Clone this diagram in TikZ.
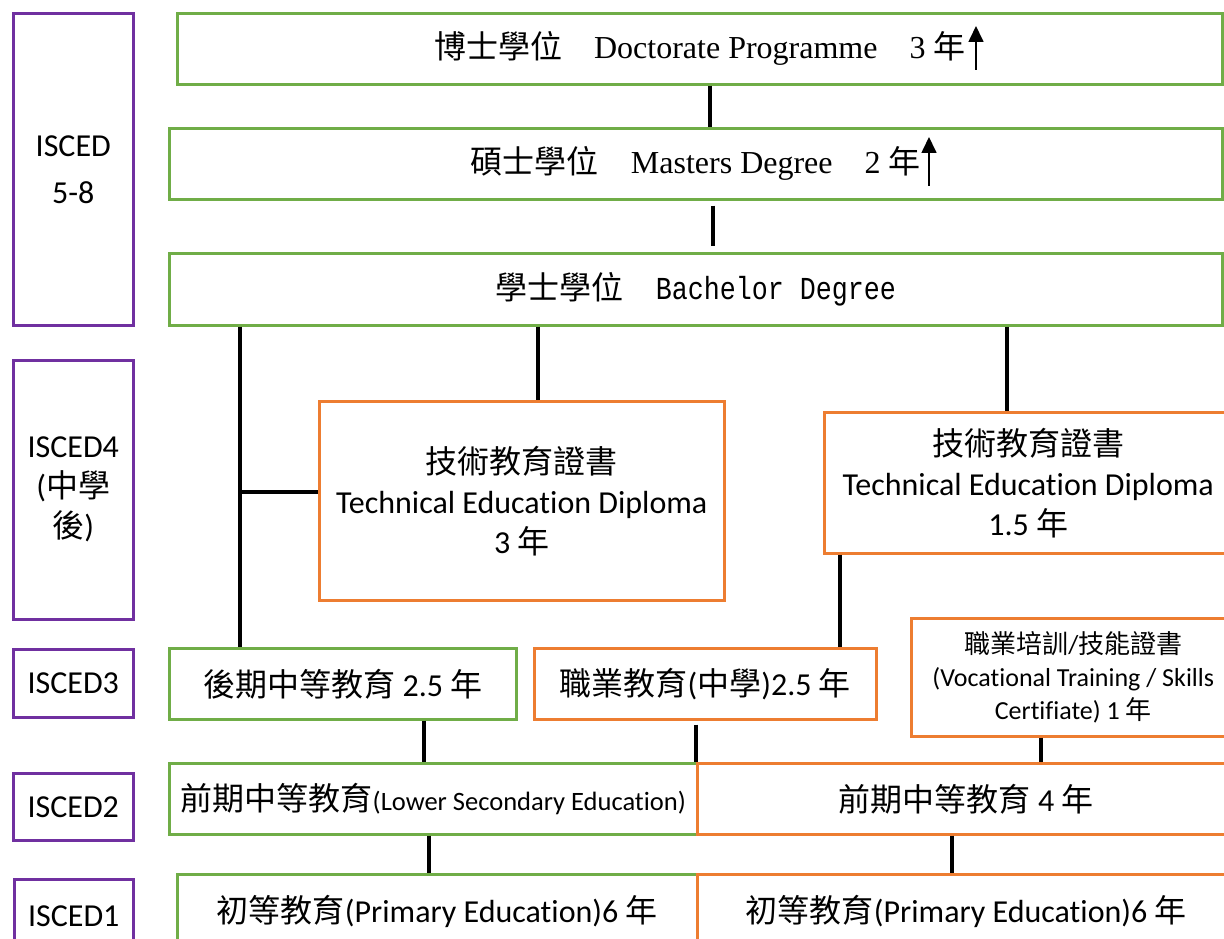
\documentclass[tikz,border=0pt]{standalone}
\usepackage{fontspec}
\setmainfont{Carlito}[Ligatures={NoCommon}]
\newfontfamily\cjk{Noto Sans CJK TC}
\newfontfamily\tnr{Liberation Serif}
\newfontfamily\mono[FakeStretch=0.8333]{Liberation Mono}
\usetikzlibrary{arrows.meta}
\definecolor{bgreen}{HTML}{70AD47}
\definecolor{borange}{HTML}{ED7D31}
\definecolor{bpurple}{HTML}{7030A0}
\newcommand{\C}[1]{{\cjk #1}}
\tikzset{
  box/.style={draw, rectangle, line width=2.6pt, inner sep=0pt, anchor=north west, align=center,
    font=\fontsize{32}{40}\selectfont},
  lvl/.style={box, draw=bpurple},
  gbox/.style={box, draw=bgreen},
  obox/.style={box, draw=borange},
  conn/.style={line width=4pt, black},
  uparrow/.style={line width=1.7pt, black, -{Triangle[width=15pt,length=16pt]}},
}
\begin{document}
\begin{tikzpicture}[x=1pt,y=-1pt]
\useasboundingbox (0,0) rectangle (1224,939);
\clip (0,0) rectangle (1224,939);
% level boxes
\node[lvl, minimum width=120pt, minimum height=312pt] (L58) at (12,12) {ISCED\\[7pt]5-8};
\node[lvl, minimum width=120pt, minimum height=259pt] (L4) at (12,359) {ISCED4\\(\C{中學}\\\C{後})};
\node[lvl, minimum width=120pt, minimum height=68pt] (L3) at (12,648) {ISCED3};
\node[lvl, minimum width=120pt, minimum height=67pt] (L2) at (12,772) {ISCED2};
\node[lvl, minimum width=119pt, minimum height=74pt] (L1) at (13,878) {ISCED1};
% degree boxes
\node[gbox, minimum width=1045pt, minimum height=71pt] (doc) at (176,12)
  {\C{博士學位}\hspace{32pt}{\tnr Doctorate Programme}\hspace{32pt}{\tnr 3}\hspace{8pt}\C{年}};
\node[gbox, minimum width=1053pt, minimum height=71pt] (mas) at (168,127)
  {\C{碩士學位}\hspace{32pt}{\tnr Masters Degree}\hspace{32pt}{\tnr 2}\hspace{8pt}\C{年}};
\node[gbox, minimum width=1053pt, minimum height=72pt] (bac) at (168,252)
  {\C{學士學位}\hspace{32pt}{\mono Bachelor Degree}};
% ISCED4
\node[obox, minimum width=405pt, minimum height=199pt] (tech1) at (318,400)
  {\C{技術教育證書}\\Technical Education Diploma\\3 \C{年}};
\node[obox, minimum width=408pt, minimum height=141pt] (tech2) at (823,411)
  {\C{技術教育證書}\\Technical Education Diploma\\1.5 \C{年}};
% ISCED3
\node[gbox, minimum width=347pt, minimum height=71pt] (up3) at (168,647)
  {\C{後期中等教育} 2.5 \C{年}};
\node[obox, minimum width=342pt, minimum height=71pt] (voc) at (533,647)
  {\C{職業教育}(\C{中學})2.5 \C{年}};
\node[obox, minimum width=324pt, minimum height=118pt, font=\fontsize{26}{33}\selectfont] (skill) at (910,617)
  {\C{職業培訓}/\C{技能證書}\\(Vocational Training / Skills\\Certifiate) 1 \C{年}};
% ISCED2
\node[gbox, minimum width=528pt, minimum height=71pt] (low) at (168,762)
  {\C{前期中等教育}{\fontsize{26.5}{40}\selectfont(Lower Secondary Education)}};
\node[obox, minimum width=538pt, minimum height=71pt] (low2) at (696,762)
  {\C{前期中等教育} 4 \C{年}};
% ISCED1
\node[gbox, minimum width=520pt, minimum height=74pt] (pri) at (176,873)
  {\C{初等教育}(Primary Education)6 \C{年}};
\node[obox, minimum width=538pt, minimum height=74pt] (pri2) at (696,873)
  {\C{初等教育}(Primary Education)6 \C{年}};
% connectors
\draw[conn] ([xshift=534pt]doc.south west) -- ([xshift=542pt]mas.north west);
\draw[conn] ([xshift=545pt,yshift=-5pt]mas.south west) -- ([xshift=545pt,yshift=6pt]bac.north west);
\coordinate (j) at ([xshift=72pt]bac.south west);
\draw[conn] (j) -- ([xshift=72pt]up3.north west);
\draw[conn] ([xshift=370pt]bac.south west) -- ([xshift=220pt]tech1.north west);
\draw[conn] ([xshift=839pt]bac.south west) -- ([xshift=184pt]tech2.north west);
\coordinate (h) at ([yshift=8.5pt]tech1.west);
\draw[conn] (h) -- (h -| j);
\draw[conn] ([xshift=17pt]tech2.south west) -- ([xshift=307pt]voc.north west);
\draw[conn] ([xshift=256pt]up3.south west) -- ([xshift=256pt]low.north west);
\draw[conn] ([xshift=163pt,yshift=-4pt]voc.south west) -- (low2.north west);
\draw[conn] ([xshift=131pt]skill.south west) -- ([xshift=345pt]low2.north west);
\draw[conn] ([xshift=261pt]low.south west) -- ([xshift=253pt]pri.north west);
\draw[conn] ([xshift=256pt]low2.south west) -- ([xshift=256pt]pri2.north west);
% arrows
\coordinate (a1b) at ([xshift=800pt,yshift=-58pt]doc.north west);
\coordinate (a1t) at ([xshift=800pt,yshift=-14pt]doc.north west);
\draw[uparrow] (a1b) -- (a1t);
\coordinate (a2b) at ([xshift=761pt,yshift=-59pt]mas.north west);
\coordinate (a2t) at ([xshift=761pt,yshift=-10pt]mas.north west);
\draw[uparrow] (a2b) -- (a2t);
\end{tikzpicture}
\end{document}
